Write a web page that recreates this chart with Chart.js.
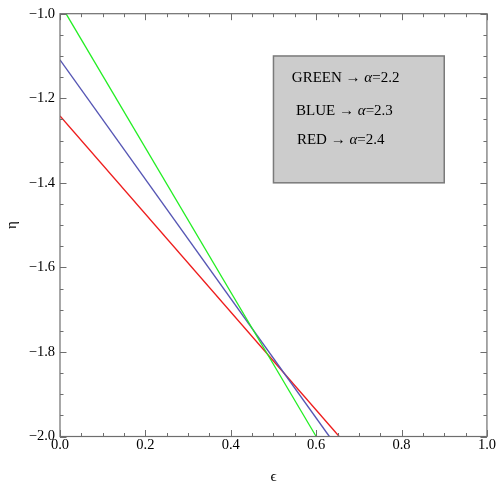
<!DOCTYPE html>
<html>
<head>
<meta charset="utf-8">
<script src="https://cdn.jsdelivr.net/npm/chart.js@4/dist/chart.umd.min.js"></script>
<style>
  html, body { margin: 0; padding: 0; background: #fff; }
  canvas { display: block; }
</style>
</head>
<body>
<canvas id="chart" width="496" height="485"></canvas>
<script>
// line end points (epsilon, eta)
const greenEps = [0.014, 0.600]
const greenEta = [-1.000, -2.000]
const blueEps = [0.000, 0.631]
const blueEta = [-1.109, -2.000]
const redEps = [0.000, 0.654]
const redEta = [-1.242, -2.000]

const seriesNames = ['GREEN', 'BLUE', 'RED']
const alphaValues = ['2.2', '2.3', '2.4']

const toPoints = (xs, ys) => xs.map((x, i) => ({ x, y: ys[i] }))

const serif = 'Liberation Serif, Times New Roman, serif'

// inward ticks on all four sides plus the grey frame
const frameTicks = {
  id: 'frameTicks',
  afterDatasetsDraw (chart) {
    const { ctx, chartArea: a, scales: { x, y } } = chart
    ctx.save()
    ctx.strokeStyle = '#6e6e6e'
    ctx.lineWidth = 1
    ctx.beginPath()
    for (let i = 0; i <= 20; i++) {
      const len = i % 4 === 0 ? 6.5 : 3.5
      const px = Math.round(x.getPixelForValue(i * 0.05)) + 0.5
      ctx.moveTo(px, a.bottom); ctx.lineTo(px, a.bottom - len)
      ctx.moveTo(px, a.top); ctx.lineTo(px, a.top + len)
      const py = Math.round(y.getPixelForValue(-2 + i * 0.05)) + 0.5
      ctx.moveTo(a.left, py); ctx.lineTo(a.left + len, py)
      ctx.moveTo(a.right, py); ctx.lineTo(a.right - len, py)
    }
    ctx.stroke()
    ctx.lineWidth = 1.2
    ctx.strokeRect(a.left, a.top, a.right - a.left, a.bottom - a.top)
    ctx.restore()
  }
}

// grey box with the colour key
const keyBox = {
  id: 'keyBox',
  beforeDatasetsDraw (chart) {
    const { ctx, scales: { x, y } } = chart
    const x0 = x.getPixelForValue(0.5)
    const x1 = x.getPixelForValue(0.9)
    const y0 = y.getPixelForValue(-1.1)
    const y1 = y.getPixelForValue(-1.4)
    ctx.save()
    ctx.fillStyle = '#cccccc'
    ctx.fillRect(x0, y0, x1 - x0, y1 - y0)
    ctx.strokeStyle = '#7a7a7a'
    ctx.lineWidth = 1.5
    ctx.strokeRect(x0, y0, x1 - x0, y1 - y0)

    const rows = [
      { ex: 0.543, ey: -1.152 },
      { ex: 0.553, ey: -1.230 },
      { ex: 0.555, ey: -1.298 }
    ]
    ctx.fillStyle = '#000'
    ctx.textBaseline = 'middle'
    ctx.textAlign = 'left'
    rows.forEach((r, i) => {
      let px = x.getPixelForValue(r.ex)
      const py = y.getPixelForValue(r.ey)
      ctx.font = '15px ' + serif
      const head = seriesNames[i] + ' \u2192 '
      ctx.fillText(head, px, py)
      px += ctx.measureText(head).width
      ctx.font = 'italic 15px ' + serif
      ctx.fillText('\u03b1', px, py)
      px += ctx.measureText('\u03b1').width
      ctx.font = '15px ' + serif
      ctx.fillText('=' + alphaValues[i], px, py)
    })
    ctx.restore()
  }
}

const line = (data, color) => ({
  data,
  borderColor: color,
  borderWidth: 1.3,
  showLine: true,
  pointRadius: 0,
  fill: false
})

// eslint-disable-next-line no-new
new Chart(document.getElementById('chart'), {
  type: 'scatter',
  data: {
    datasets: [
      line(toPoints(greenEps, greenEta), '#22ee22'),
      line(toPoints(blueEps, blueEta), '#5656b4'),
      line(toPoints(redEps, redEta), '#ee1c1c')
    ]
  },
  options: {
    responsive: false,
    animation: false,
    layout: { padding: { top: 10, right: 9, left: 0, bottom: 0 } },
    plugins: { legend: { display: false }, tooltip: { enabled: false } },
    scales: {
      x: {
        type: 'linear',
        min: 0,
        max: 1,
        grid: { display: false, drawTicks: false },
        border: { display: false },
        ticks: {
          stepSize: 0.2,
          padding: 0,
          color: '#000',
          font: { family: serif, size: 14.5 },
          callback: v => v.toFixed(1)
        },
        title: {
          display: true,
          text: '\u03f5',
          color: '#000',
          font: { family: serif, size: 15, lineHeight: 1 },
          padding: 0
        },
        afterFit (s) { s.height = 48.5 }
      },
      y: {
        type: 'linear',
        min: -2,
        max: -1,
        grid: { display: false, drawTicks: false },
        border: { display: false },
        ticks: {
          stepSize: 0.2,
          padding: 5,
          color: '#000',
          font: { family: serif, size: 14.5 },
          callback: v => (v < 0 ? '\u2212' : '') + Math.abs(v).toFixed(1)
        },
        title: {
          display: true,
          text: '\u03b7',
          color: '#000',
          font: { family: serif, size: 15, lineHeight: 1 },
          padding: 5
        },
        afterFit (s) { s.width = 60 }
      }
    }
  },
  plugins: [keyBox, frameTicks]
})
</script>
</body>
</html>
